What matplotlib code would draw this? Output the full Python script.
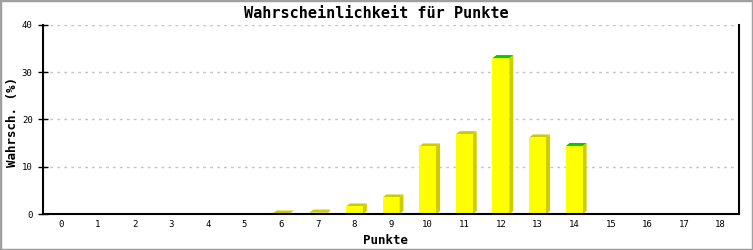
import matplotlib
matplotlib.use("Agg")
import matplotlib.pyplot as plt
from matplotlib.patches import Rectangle, Polygon

# data
punkte = list(range(0, 19))
wahrsch = [0, 0, 0, 0, 0, 0, 0.1, 0.3, 1.6, 3.5, 14.3, 16.9, 33.0, 16.2, 14.4, 0, 0, 0, 0]
highlight = [12, 14]   # bars with a green top
y_ticks = [0, 10, 20, 30, 40]

front_col = "#ffff00"
side_col = "#cccc00"
top_hl_col = "#00cc00"

W, H = 753, 250
fig = plt.figure(figsize=(W / 100, H / 100), dpi=100)
fig.patch.set_facecolor("white")
ax = fig.add_axes((43 / W, (H - 214) / H, (739 - 43) / W, (214 - 25) / H))

xmin, xmax, ymin, ymax = -0.5, 18.5, 0, 40
ax.set_xlim(xmin, xmax)
ax.set_ylim(ymin, ymax)

# pixel -> data size of the 3d shadow
px_x = (739 - 43) / (xmax - xmin)
px_y = (214 - 25) / (ymax - ymin)
dx = 4 / px_x
dy = 3 / px_y
bw = 0.46

for x, v in zip(punkte, wahrsch):
    if v <= 0:
        continue
    x0, x1 = x - bw / 2, x + bw / 2
    # side face
    ax.add_patch(Polygon([(x1, 0), (x1 + dx, dy), (x1 + dx, v + dy), (x1, v)],
                         closed=True, fc=side_col, ec="none", zorder=3))
    # top face
    tc = top_hl_col if x in highlight else side_col
    ax.add_patch(Polygon([(x0, v), (x0 + dx, v + dy), (x1 + dx, v + dy), (x1, v)],
                         closed=True, fc=tc, ec="none", zorder=3))
    if x in highlight:
        ax.add_patch(Polygon([(x1, v), (x1 + dx, v + dy), (x1 + dx, v + dy * 0.4), (x1, v - dy * 0.6)],
                             closed=True, fc=side_col, ec="none", zorder=3))
# front faces
ax.bar(punkte, wahrsch, width=bw, color=front_col, edgecolor="none", zorder=4)

ax.set_yticks(y_ticks)
ax.set_xticks(punkte)
ax.set_xticklabels([str(p) for p in punkte])
ax.yaxis.grid(True, color="#c4c4c4", linestyle=(0, (2, 3)), linewidth=1)
ax.set_axisbelow(True)

ax.spines["top"].set_visible(False)
for s in ("left", "bottom", "right"):
    ax.spines[s].set_linewidth(1.5)
    ax.spines[s].set_color("black")
    ax.spines[s].set_zorder(5)

mono = "DejaVu Sans Mono"
ax.tick_params(axis="y", direction="inout", length=7, width=1, labelsize=6.5, pad=4)
ax.tick_params(axis="x", length=0, labelsize=6.5, pad=4)
for lab in ax.get_xticklabels() + ax.get_yticklabels():
    lab.set_family(mono)

fig.text(386 / W, 1 - 240 / H, "Punkte", family=mono, fontweight="bold",
         fontsize=9, ha="center", va="center")
fig.text(13 / W, 1 - 122 / H, "Wahrsch. (%)", family=mono, fontweight="bold",
         fontsize=9, ha="center", va="center", rotation=90)
fig.text(0.5, 1 - 13 / H, "Wahrscheinlichkeit für Punkte", family=mono,
         fontweight="bold", fontsize=11, ha="center", va="center")

# outer grey frame
fig.patches.append(Rectangle((0, 0), 1, 1, transform=fig.transFigure, fill=False,
                             ec="#a0a0a0", lw=2.5, zorder=10))

fig.savefig("out.png", dpi=100)
